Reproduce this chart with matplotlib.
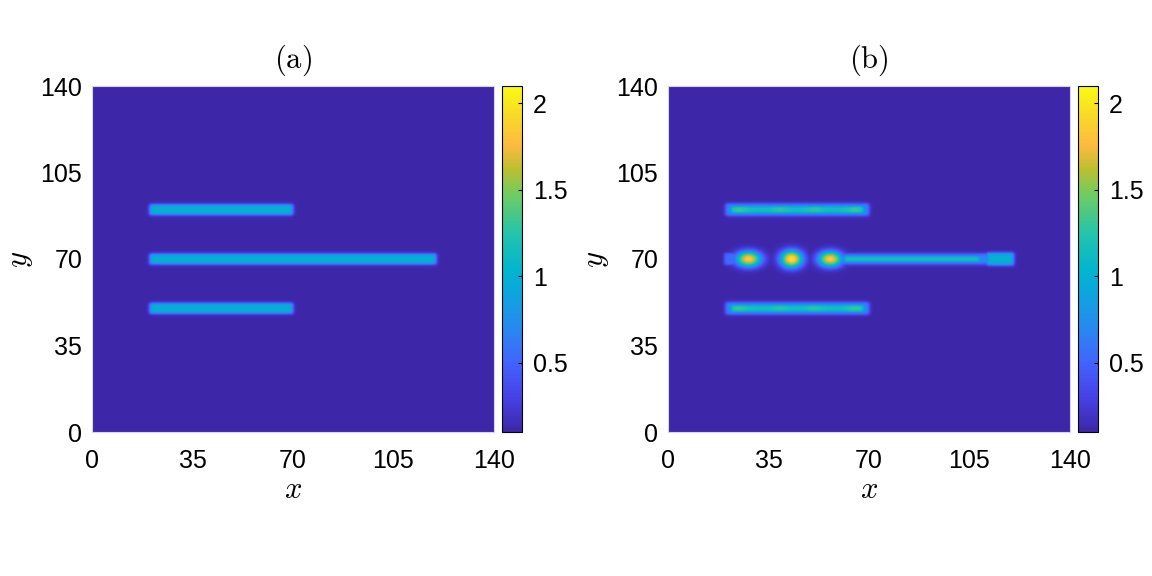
import numpy as np
import matplotlib.pyplot as plt
from matplotlib.colors import LinearSegmentedColormap

plt.rcParams['font.family'] = ['Liberation Sans', 'DejaVu Sans']
plt.rcParams['mathtext.fontset'] = 'cm'

# domain, ticks and colour limits
L = 140
ticks = [0, 35, 70, 105, 140]
cb_ticks = [0.5, 1, 1.5, 2]
c_min, c_max = 0.1, 2.1
background = 0.1

# panel (a): three straight filaments (x start, x end, y, level)
a_x0 = [20, 20, 20]
a_x1 = [70, 120, 70]
a_y = [90, 70, 50]
a_level = [1.0, 1.0, 1.0]

# panel (b): outer filaments, halo level and core level with bright spots
b_x0 = [20, 20]
b_x1 = [70, 70]
b_y = [90, 50]
b_halo = [0.75, 0.75]
b_core = [1.2, 1.2]
b_spot_x = [21.5, 25, 39, 51, 65, 68.5]
b_spot_amp = [0.05, 0.15, 0.13, 0.13, 0.15, 0.05]

# panel (b): middle filament broken into droplets plus a trailing tail
drop_x = [28, 43, 56.5]
drop_y = [70, 70, 70]
drop_rx = [5.0, 4.4, 4.8]
drop_ry = [3.6, 4.0, 3.6]
drop_peak = [1.85, 1.98, 1.85]
lead_x0, lead_x1, lead_level = 19.5, 27, 0.55
tail_x0, tail_x1, tail_halo, tail_core = 59, 113, 0.72, 1.28
knob_x0, knob_x1, knob_level = 111, 120.5, 1.0

# parula-like colormap anchors
parula_pos = [0.0, 0.1, 0.2, 0.3, 0.4, 0.47, 0.58, 0.68, 0.76, 0.83, 0.92, 1.0]
parula_rgb = [(0.2422, 0.1504, 0.6603), (0.2780, 0.2550, 0.9000),
              (0.2600, 0.3900, 0.9950), (0.1500, 0.5400, 0.9400),
              (0.0500, 0.6500, 0.8700), (0.0100, 0.7100, 0.8100),
              (0.1500, 0.7700, 0.6600), (0.4200, 0.8000, 0.4000),
              (0.7400, 0.7500, 0.1900), (0.9900, 0.7300, 0.2500),
              (0.9700, 0.8600, 0.1500), (0.9769, 0.9839, 0.0805)]
parula = LinearSegmentedColormap.from_list('parula', list(zip(parula_pos, parula_rgb)))

gx = np.linspace(0, L, 561)
X, Y = np.meshgrid(gx, gx)


def band(x0, x1, yc, hw, s=0.7):
    px = 0.5 * (np.tanh((X - x0) / s) - np.tanh((X - x1) / s))
    py = 0.5 * (np.tanh((Y - yc + hw) / s) - np.tanh((Y - yc - hw) / s))
    return px * py


def drop(xc, yc, rx, ry):
    r = np.sqrt(((X - xc) / rx) ** 2 + ((Y - yc) / ry) ** 2)
    return np.exp(-1.3 * r ** 2.2)


# field (a)
fa = np.full_like(X, background)
for x0, x1, yc, lv in zip(a_x0, a_x1, a_y, a_level):
    fa = np.maximum(fa, background + (lv - background) * band(x0, x1, yc, 2.1))

# field (b)
fb = np.full_like(X, background)
for x0, x1, yc, h, c in zip(b_x0, b_x1, b_y, b_halo, b_core):
    fb = np.maximum(fb, background + (h - background) * band(x0, x1, yc, 2.4, 0.8))
    core = c + sum(a * np.exp(-((X - sx) / 3.0) ** 2) for sx, a in zip(b_spot_x, b_spot_amp))
    fb = np.maximum(fb, background + (core - background) * band(x0 + 1.5, x1 - 1.5, yc, 1.6, 0.8))
fb = np.maximum(fb, background + (lead_level - background) * band(lead_x0, lead_x1, 70, 2.4, 0.6))
fb = np.maximum(fb, background + (tail_halo - background) * band(tail_x0, tail_x1, 70, 2.1, 0.8))
fb = np.maximum(fb, background + (tail_core - background) * band(tail_x0 + 2, tail_x1 - 4, 70, 1.3, 0.8))
fb = np.maximum(fb, background + (knob_level - background) * band(knob_x0, knob_x1, 70, 2.5, 0.7))
for xc, yc, rx, ry, pk in zip(drop_x, drop_y, drop_rx, drop_ry, drop_peak):
    fb = np.maximum(fb, background + (pk - background) * drop(xc, yc, rx, ry))

fig = plt.figure(figsize=(11.52, 5.76), dpi=100)
W, H = 1152, 576
panels = [(fa, '(a)', 92), (fb, '(b)', 668)]
for field, tag, left in panels:
    ax = fig.add_axes([left / W, (H - 432) / H, 402 / W, 346 / H])
    im = ax.imshow(field, extent=[0, L, 0, L], origin='lower', cmap=parula,
                   vmin=c_min, vmax=c_max, interpolation='bilinear', aspect='auto')
    ax.set_xticks(ticks)
    ax.set_yticks(ticks)
    ax.tick_params(length=0, labelsize=18)
    ax.tick_params(axis='x', pad=12)
    ax.tick_params(axis='y', pad=7)
    for sp in ax.spines.values():
        sp.set_color('#d4d4ec')
        sp.set_linewidth(0.8)
    ax.set_xlabel(r'$x$', fontsize=22, labelpad=2)
    ax.set_ylabel(r'$y$', fontsize=22, labelpad=4)
    ax.set_title(r'$\mathrm{' + tag + '}$', fontsize=22, pad=13)

    cax = fig.add_axes([(left + 410) / W, (H - 432) / H, 20 / W, 346 / H])
    cb = fig.colorbar(im, cax=cax, ticks=cb_ticks)
    cb.ax.set_yticklabels(['0.5', '1', '1.5', '2'])
    cb.ax.tick_params(direction='in', length=3, width=0.8, labelsize=18, pad=8)
    cb.outline.set_linewidth(0.8)

fig.savefig('out.png', dpi=100)
